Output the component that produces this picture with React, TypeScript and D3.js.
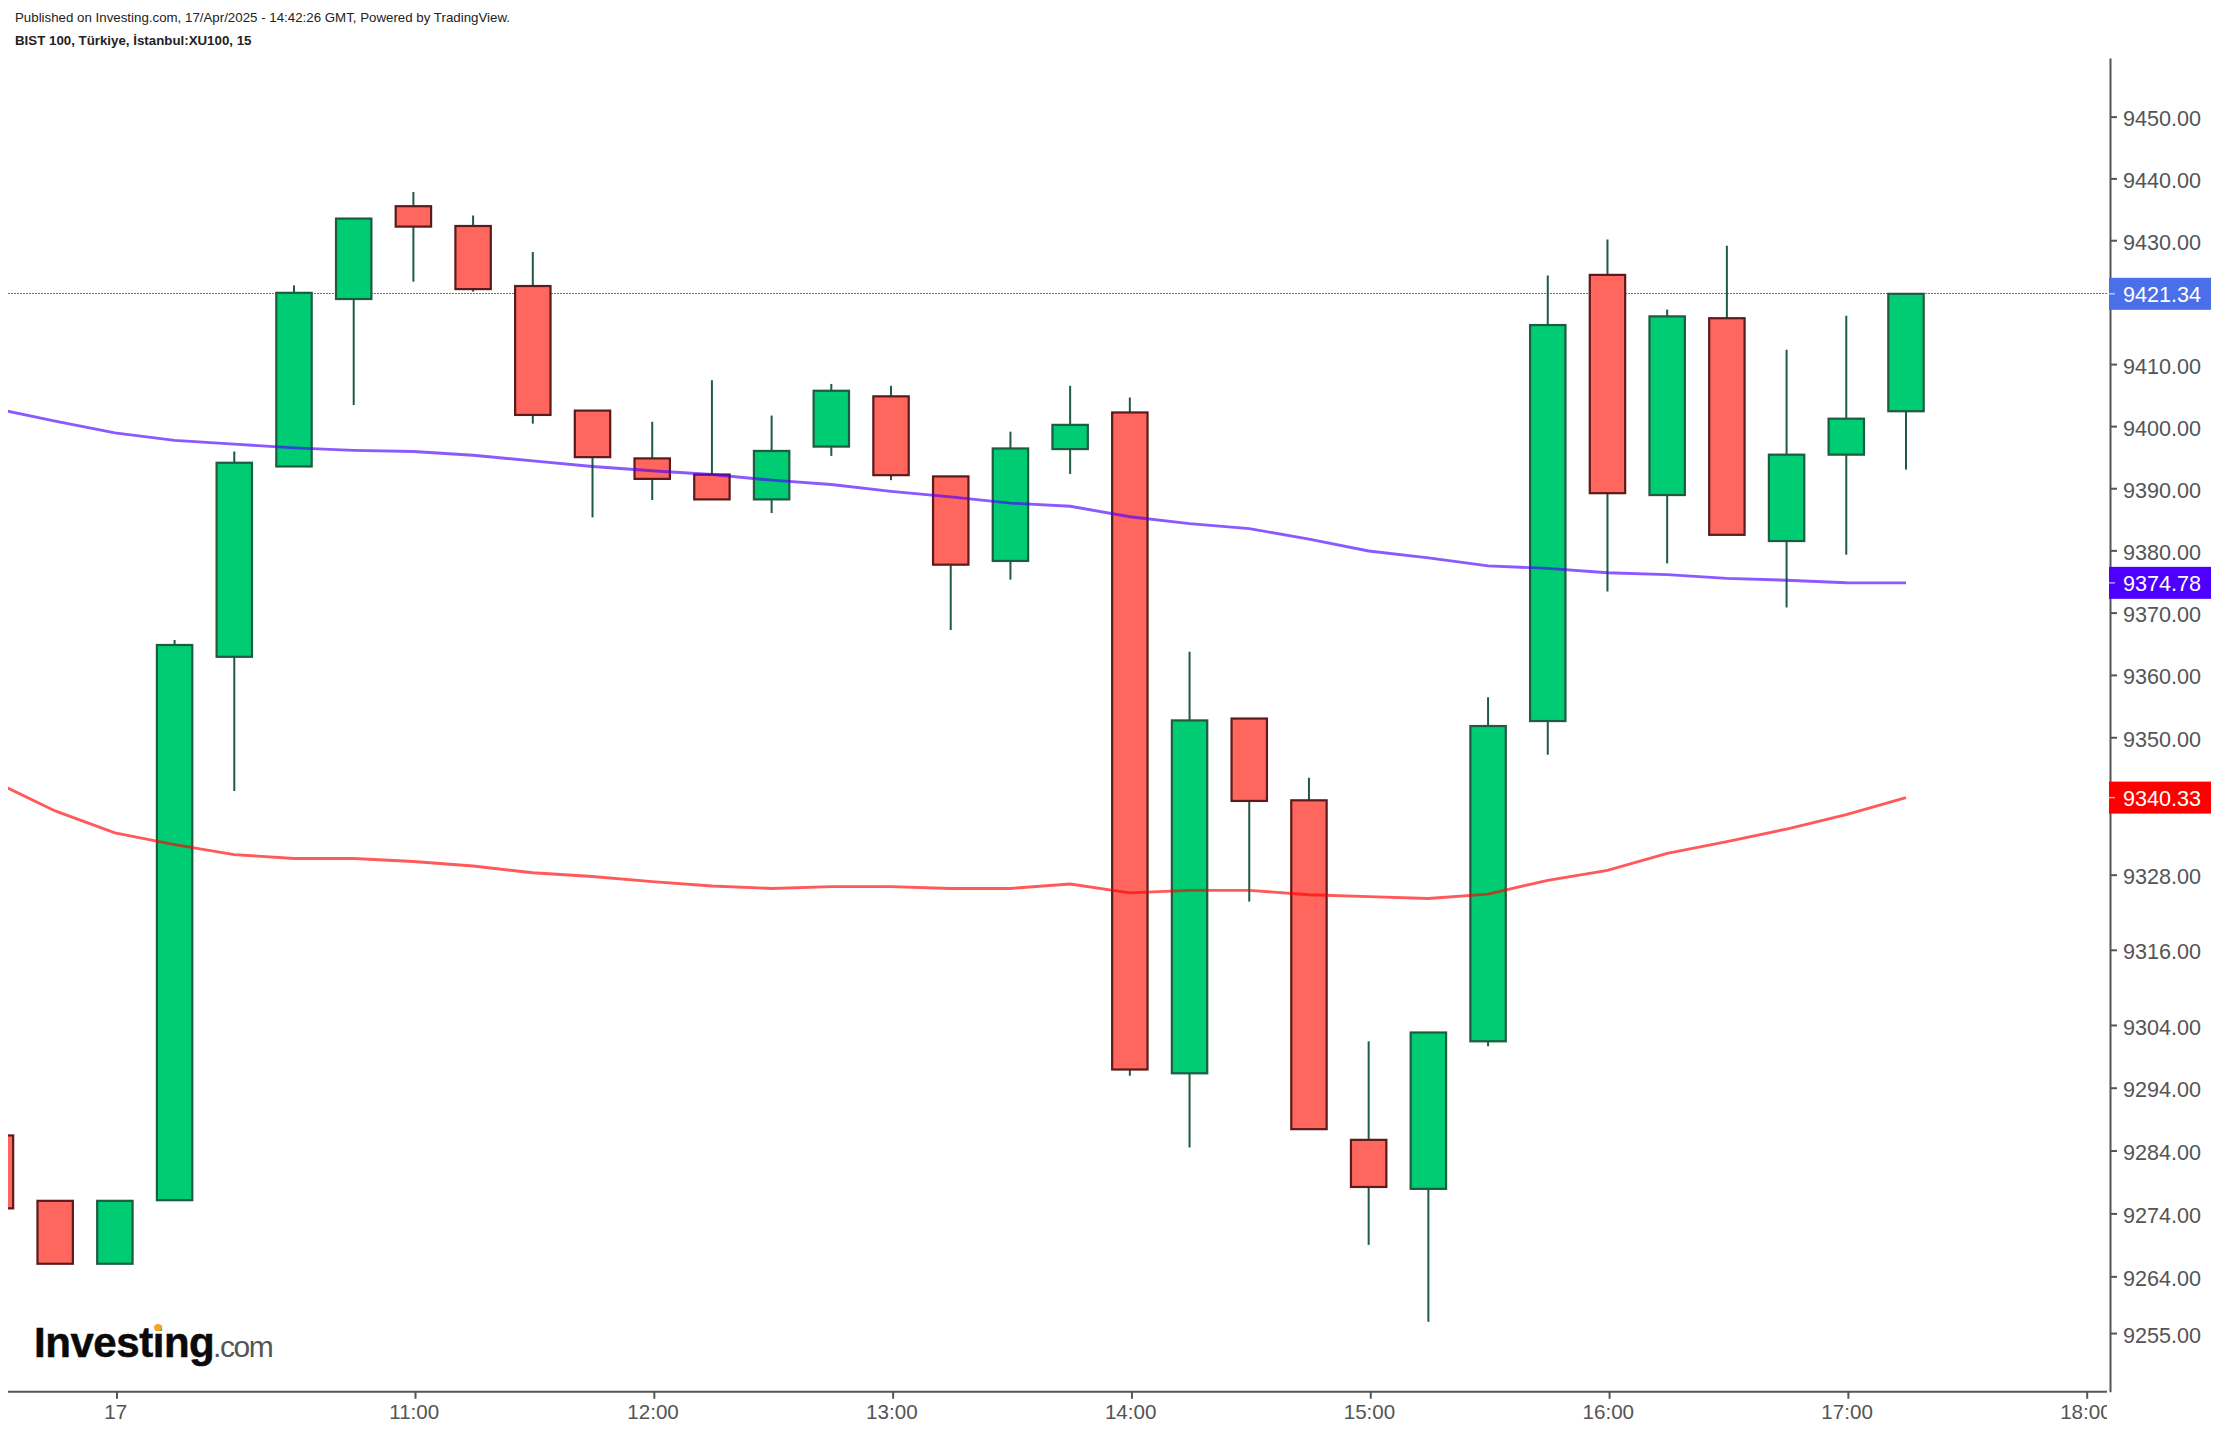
import * as d3 from "d3";
import { useEffect, useRef } from "react";

const W = 2230;
const H = 1434;
const LEFT = 8;
const RIGHT = 2110;
const TOP = 58;
const BOTTOM = 1391.7;
const BODY_W = 35.4;
// candles sit a touch left of their time tick in the original
const BAR_SHIFT = -1.6;
const FONT = '"Liberation Sans", Arial, sans-serif';
const TEXT_COLOR = "#555";

const times = [
	"09:15", "09:30", "09:45", "10:00", "10:15", "10:30", "10:45",
	"11:00", "11:15", "11:30", "11:45", "12:00", "12:15", "12:30", "12:45",
	"13:00", "13:15", "13:30", "13:45", "14:00", "14:15", "14:30", "14:45",
	"15:00", "15:15", "15:30", "15:45", "16:00", "16:15", "16:30", "16:45",
	"17:00", "17:15",
];
const opens = [
	9286.4, 9276.0, 9266.0, 9276.1, 9362.9, 9393.5, 9420.5, 9435.5, 9432.3, 9422.6, 9402.5,
	9394.8, 9392.2, 9388.2, 9396.7, 9404.8, 9391.9, 9378.3, 9396.3, 9402.2, 9296.3, 9353.0,
	9339.9, 9285.7, 9277.9, 9301.4, 9352.6, 9424.4, 9388.9, 9417.4, 9381.5, 9395.4, 9402.4,
];
const highs = [
	9286.4, 9276.0, 9276.0, 9365.6, 9395.9, 9422.7, 9433.5, 9437.8, 9434.0, 9428.1, 9402.5,
	9400.7, 9407.4, 9401.7, 9406.8, 9406.5, 9391.9, 9399.1, 9406.5, 9404.6, 9363.7, 9353.0,
	9343.5, 9301.4, 9302.8, 9356.4, 9424.3, 9430.1, 9418.8, 9429.1, 9412.3, 9417.8, 9421.34,
];
const lows = [
	9274.8, 9266.0, 9266.0, 9276.1, 9341.4, 9393.5, 9403.4, 9423.3, 9421.7, 9400.4, 9385.3,
	9388.1, 9388.2, 9386.0, 9395.2, 9391.3, 9367.2, 9375.3, 9392.3, 9295.9, 9284.5, 9323.7,
	9287.4, 9269.0, 9256.8, 9300.6, 9347.2, 9373.4, 9377.9, 9382.5, 9370.8, 9379.3, 9393.0,
];
const closes = [
	9274.8, 9266.0, 9276.0, 9364.8, 9394.1, 9421.5, 9433.5, 9432.2, 9422.1, 9401.8, 9395.0,
	9391.5, 9388.2, 9396.0, 9405.7, 9392.1, 9377.7, 9396.4, 9400.2, 9296.9, 9352.7, 9339.8,
	9287.4, 9278.2, 9302.8, 9351.8, 9416.3, 9389.2, 9417.7, 9382.5, 9395.4, 9401.2, 9421.34,
];
const maPurple = [
	9402.8, 9400.8, 9398.9, 9397.7, 9397.1, 9396.5, 9396.1, 9395.9, 9395.3, 9394.4, 9393.5,
	9392.8, 9392.2, 9391.3, 9390.6, 9389.5, 9388.6, 9387.6, 9387.1, 9385.4, 9384.3, 9383.5,
	9381.8, 9379.9, 9378.8, 9377.5, 9377.1, 9376.4, 9376.1, 9375.5, 9375.2, 9374.8, 9374.78,
];
const maRed = [
	9342.8, 9338.2, 9334.7, 9332.8, 9331.2, 9330.6, 9330.6, 9330.1, 9329.4, 9328.3, 9327.7,
	9326.9, 9326.2, 9325.8, 9326.1, 9326.1, 9325.8, 9325.8, 9326.5, 9325.1, 9325.5, 9325.5,
	9324.8, 9324.5, 9324.2, 9324.9, 9327.1, 9328.7, 9331.4, 9333.3, 9335.3, 9337.6, 9340.33,
];
const priceTicks = [
	9450, 9440, 9430, 9410, 9400, 9390, 9380, 9370, 9360, 9350, 9328, 9316, 9304,
	9294, 9284, 9274, 9264, 9255,
];
const timeTicks = ["09:45", "11:00", "12:00", "13:00", "14:00", "15:00", "16:00", "17:00", "18:00"];
const timeTickLabels = ["17", "11:00", "12:00", "13:00", "14:00", "15:00", "16:00", "17:00", "18:00"];
const lastLabels = [
	{ value: 9421.34, color: "#4a6fe8" },
	{ value: 9374.78, color: "#4d00ff" },
	{ value: 9340.33, color: "#ff0000" },
];

const toDate = (t: string) => d3.timeParse("%Y-%m-%d %H:%M")(`2025-04-17 ${t}`) as Date;

export default function App() {
	const svgRef = useRef<SVGSVGElement>(null);

	useEffect(() => {
		const svg = svgRef.current;
		if (!svg) return;

		const sel = d3.select(svg);
		sel.selectAll("*").remove();

		const x = d3
			.scaleTime()
			.domain([toDate("11:00"), toDate("18:00")])
			.range([415, 2086.7]);
		const y = d3.scaleLog().domain([9245.7, 9459.5]).range([BOTTOM, TOP]);
		const barX = (i: number) => x(toDate(times[i])) + BAR_SHIFT;

		const defs = sel.append("defs");
		defs
			.append("clipPath")
			.attr("id", "plot")
			.append("rect")
			.attr("x", LEFT)
			.attr("y", TOP)
			.attr("width", RIGHT - LEFT)
			.attr("height", BOTTOM - TOP);
		// clip is in the axis group's own coordinates
		defs
			.append("clipPath")
			.attr("id", "time-labels")
			.append("rect")
			.attr("x", LEFT)
			.attr("y", -2)
			.attr("width", 2107 - LEFT)
			.attr("height", H - BOTTOM + 2);

		sel.append("rect").attr("width", W).attr("height", H).attr("fill", "#fff");

		// Header
		sel
			.append("text")
			.attr("x", 15)
			.attr("y", 22)
			.attr("font-family", FONT)
			.attr("font-size", 13.3)
			.attr("fill", "#222")
			.text("Published on Investing.com, 17/Apr/2025 - 14:42:26 GMT, Powered by TradingView.");
		sel
			.append("text")
			.attr("x", 15)
			.attr("y", 45)
			.attr("font-family", FONT)
			.attr("font-size", 13.3)
			.attr("font-weight", "bold")
			.attr("fill", "#222")
			.text("BIST 100, Türkiye, İstanbul:XU100, 15");

		const plot = sel.append("g").attr("clip-path", "url(#plot)");

		// Last price line
		plot
			.append("line")
			.attr("x1", LEFT)
			.attr("x2", 2107)
			.attr("y1", y(closes[closes.length - 1]) - 0.5)
			.attr("y2", y(closes[closes.length - 1]) - 0.5)
			.attr("stroke", "#4a6fe8")
			.attr("stroke-dasharray", "2 1")
			.attr("shape-rendering", "crispEdges");

		// Candles
		const candles = plot
			.selectAll("g.candle")
			.data(times.map((_, i) => i))
			.join("g")
			.attr("class", "candle");

		candles
			.append("line")
			.attr("x1", (i) => barX(i))
			.attr("x2", (i) => barX(i))
			.attr("y1", (i) => y(highs[i]))
			.attr("y2", (i) => y(lows[i]))
			.attr("stroke", "#1d5c40")
			.attr("stroke-width", 2);

		candles
			.append("rect")
			.attr("x", (i) => barX(i) - BODY_W / 2)
			.attr("width", BODY_W)
			.attr("y", (i) => y(Math.max(opens[i], closes[i])))
			.attr("height", (i) => Math.abs(y(opens[i]) - y(closes[i])))
			.attr("fill", (i) => (closes[i] >= opens[i] ? "#00cc74" : "#ff665e"))
			.attr("stroke", (i) => (closes[i] >= opens[i] ? "#1d5c40" : "#5c1a1a"))
			.attr("stroke-width", 2.2);

		// Moving averages
		const line = d3
			.line<number>()
			.x((_, i) => barX(i))
			.y((d) => y(d));

		[
			{ values: maRed, color: "#ff0000" },
			{ values: maPurple, color: "#4d00ff" },
		].forEach((ma) => {
			plot
				.append("path")
				.attr("d", line(ma.values))
				.attr("fill", "none")
				.attr("stroke", ma.color)
				.attr("stroke-opacity", 0.65)
				.attr("stroke-width", 2.9);
		});

		// Logo
		const logo = sel.append("g").attr("font-family", FONT);
		logo
			.append("text")
			.attr("x", 34)
			.attr("y", 1357)
			.attr("font-size", 42)
			.attr("font-weight", "bold")
			.attr("letter-spacing", -0.45)
			.attr("fill", "#0a0a0a")
			.attr("stroke", "#0a0a0a")
			.attr("stroke-width", 0.5)
			.text("Investing");
		logo
			.append("text")
			.attr("x", 213)
			.attr("y", 1357)
			.attr("font-size", 30)
			.attr("letter-spacing", -1.4)
			.attr("fill", "#555")
			.text(".com");
		logo
			.append("ellipse")
			.attr("cx", 158)
			.attr("cy", 1327.5)
			.attr("rx", 4)
			.attr("ry", 3.5)
			.attr("fill", "#f5a623");

		// Price axis
		const yAxis = sel
			.append("g")
			.attr("transform", `translate(${RIGHT},0)`)
			.call(
				d3
					.axisRight(y)
					.tickValues(priceTicks)
					.tickFormat((d) => (d as number).toFixed(2))
					.tickSize(7)
					.tickSizeOuter(0)
					.tickPadding(6),
			);
		yAxis.select(".domain").attr("stroke", TEXT_COLOR).attr("stroke-width", 2);
		yAxis.selectAll(".tick line").attr("stroke", TEXT_COLOR).attr("stroke-width", 2);
		yAxis
			.selectAll(".tick text")
			.attr("dy", "0.42em")
			.attr("font-family", FONT)
			.attr("font-size", 21.6)
			.attr("fill", TEXT_COLOR);

		// Time axis
		const xAxis = sel
			.append("g")
			.attr("transform", `translate(0,${BOTTOM})`)
			.attr("clip-path", "url(#time-labels)")
			.call(
				d3
					.axisBottom(x)
					.tickValues(timeTicks.map(toDate))
					.tickFormat((_, i) => timeTickLabels[i])
					.tickSize(7)
					.tickSizeOuter(0)
					.tickPadding(6),
			);
		xAxis
			.select(".domain")
			.attr("d", `M${LEFT},0H${RIGHT}`)
			.attr("stroke", TEXT_COLOR)
			.attr("stroke-width", 2);
		xAxis.selectAll(".tick line").attr("stroke", TEXT_COLOR).attr("stroke-width", 2);
		xAxis
			.selectAll(".tick text")
			.attr("x", -1.3)
			.attr("font-family", FONT)
			.attr("font-size", 20.6)
			.attr("fill", TEXT_COLOR);

		// Last value labels
		const tags = sel
			.selectAll("g.tag")
			.data(lastLabels)
			.join("g")
			.attr("class", "tag")
			.attr("transform", (d) => `translate(2109,${y(d.value)})`);
		tags
			.append("rect")
			.attr("y", -16)
			.attr("width", 102)
			.attr("height", 32)
			.attr("fill", (d) => d.color);
		tags
			.append("line")
			.attr("x2", 6)
			.attr("stroke", "#fff")
			.attr("stroke-opacity", 0.6)
			.attr("stroke-width", 1.5);
		tags
			.append("text")
			.attr("x", 14)
			.attr("y", 8.6)
			.attr("font-family", FONT)
			.attr("font-size", 21.6)
			.attr("fill", "#fff")
			.text((d) => d.value.toFixed(2));
	}, []);

	return (
		<svg
			ref={svgRef}
			width={W}
			height={H}
			viewBox={`0 0 ${W} ${H}`}
			style={{ position: "absolute", left: 0, top: 0, display: "block" }}
		/>
	);
}
